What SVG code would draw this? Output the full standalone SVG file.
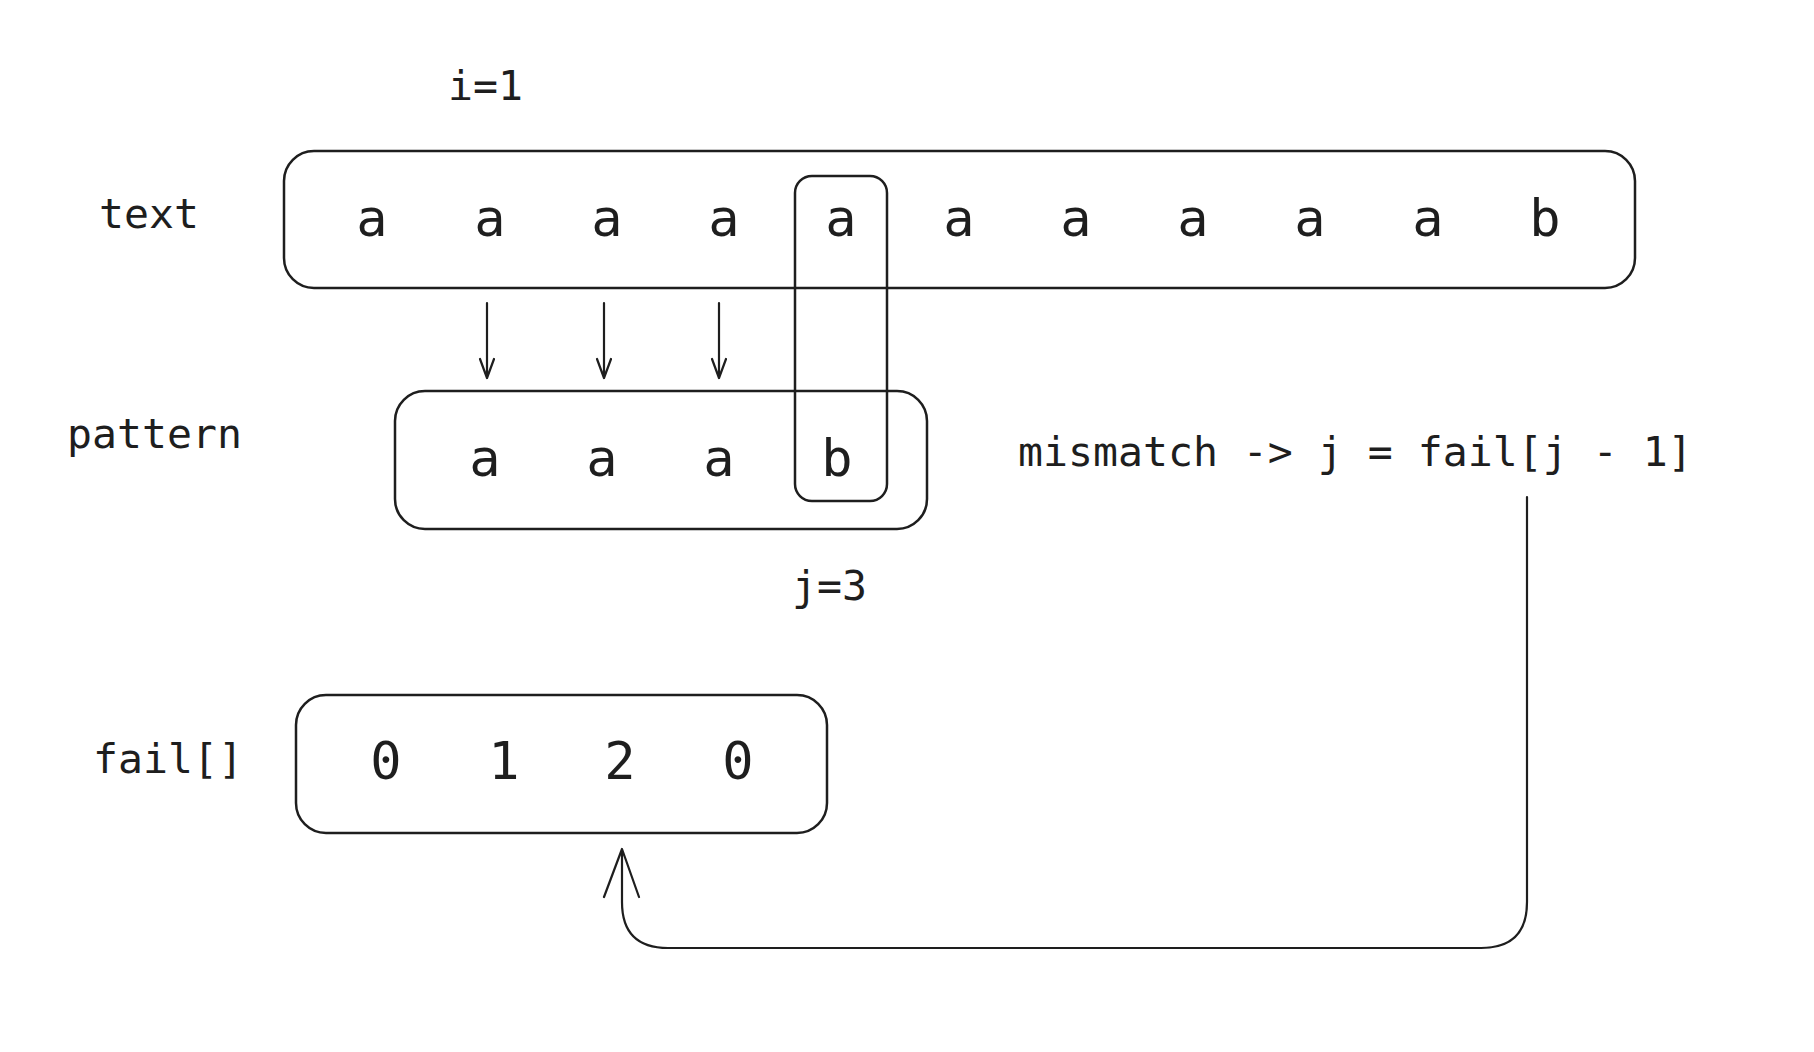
<svg xmlns="http://www.w3.org/2000/svg" width="1814" height="1052" viewBox="0 0 1814 1052">
<style>
.box{fill:none;stroke:#1e1e1e;stroke-width:2.5}
.lbl{font-family:"DejaVu Sans Mono","Liberation Mono",monospace;font-size:41.5px;fill:#1e1e1e}
.big{font-family:"DejaVu Sans Mono","Liberation Mono",monospace;font-size:52px;fill:#1e1e1e;text-anchor:middle}
.ln{fill:none;stroke:#1e1e1e;stroke-width:2.2;stroke-linecap:round;stroke-linejoin:round}
</style>
<rect width="1814" height="1052" fill="#ffffff"/>
<g id="label-i"><text class="lbl" x="448" y="100">i=1</text></g>
<g id="label-text"><text class="lbl" x="99" y="228">text</text></g>
<g id="label-pattern"><text class="lbl" x="67" y="448">pattern</text></g>
<g id="label-j"><text class="lbl" x="792" y="600">j=3</text></g>
<g id="label-fail"><text class="lbl" x="93" y="773">fail[]</text></g>
<g id="label-mismatch"><text class="lbl" x="1018" y="466">mismatch -&gt; j = fail[j - 1]</text></g>
<g id="text-array">
<rect class="box" x="284" y="151" width="1351" height="137" rx="30"/>
<text class="big" y="236"><tspan x="372">a</tspan><tspan x="490">a</tspan><tspan x="607">a</tspan><tspan x="724">a</tspan><tspan x="841">a</tspan><tspan x="959">a</tspan><tspan x="1076">a</tspan><tspan x="1193">a</tspan><tspan x="1310">a</tspan><tspan x="1428">a</tspan><tspan x="1545">b</tspan></text>
</g>
<g id="pattern-array">
<rect class="box" x="395" y="391" width="532" height="138" rx="30"/>
<text class="big" y="476"><tspan x="485">a</tspan><tspan x="602">a</tspan><tspan x="719">a</tspan><tspan x="837">b</tspan></text>
</g>
<g id="highlight">
<rect class="box" x="795" y="176" width="92" height="325" rx="17"/>
</g>
<g id="fail-array">
<rect class="box" x="296" y="695" width="531" height="138" rx="30"/>
<text class="big" y="779"><tspan x="386">0</tspan><tspan x="504">1</tspan><tspan x="620">2</tspan><tspan x="738">0</tspan></text>
</g>
<g id="connectors">
<path class="ln" d="M487 303V378M480 359L487 378L494 359"/>
<path class="ln" d="M604 303V378M597 359L604 378L611 359"/>
<path class="ln" d="M719 303V378M712 359L719 378L726 359"/>
<path class="ln" d="M1527 497V902Q1527 948 1481 948H668Q622 948 622 902V849M604 897L622 849L639 897"/>
</g>
</svg>
